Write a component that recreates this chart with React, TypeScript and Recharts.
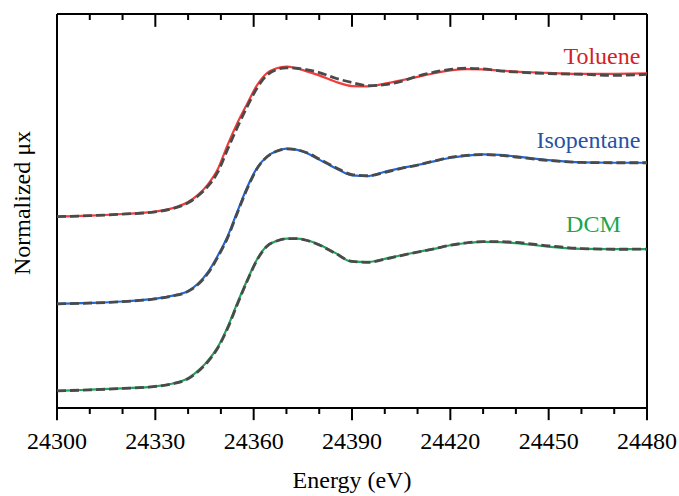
import { Line, LineChart, ReferenceDot, ReferenceLine, XAxis, YAxis } from "recharts";

// Normalized XANES spectra, measured (solid) and modelled (dashed).
const energy = [
  24300, 24310, 24320, 24330, 24335, 24340, 24343, 24346, 24349, 24352, 24355, 24358,
  24361, 24364, 24367, 24370, 24373, 24376, 24380, 24385, 24390, 24395, 24400, 24405,
  24410, 24415, 24420, 24425, 24430, 24435, 24440, 24450, 24460, 24470, 24480,
];

const toluene = [
  0.0, 0.008, 0.019, 0.036, 0.058, 0.103, 0.153, 0.225, 0.33, 0.5, 0.655, 0.79,
  0.92, 1.005, 1.04, 1.051, 1.04, 1.02, 0.99, 0.945, 0.915, 0.913, 0.932, 0.955,
  0.98, 1.005, 1.025, 1.034, 1.032, 1.024, 1.016, 1.008, 1.0, 1.001, 1.004,
];
const tolueneModel = [
  0.0, 0.007, 0.018, 0.034, 0.055, 0.098, 0.145, 0.212, 0.31, 0.47, 0.625, 0.77,
  0.9, 0.99, 1.03, 1.043, 1.04, 1.03, 1.01, 0.97, 0.94, 0.918, 0.925, 0.948,
  0.985, 1.012, 1.032, 1.04, 1.035, 1.022, 1.014, 1.003, 0.998, 0.99, 0.997,
];

const isopentane = [
  0.0, 0.006, 0.016, 0.036, 0.055, 0.09, 0.14, 0.22, 0.335, 0.47, 0.645, 0.815,
  0.95, 1.03, 1.07, 1.087, 1.08, 1.058, 1.01, 0.95, 0.9, 0.895, 0.925, 0.95,
  0.972, 0.998, 1.023, 1.037, 1.046, 1.043, 1.032, 1.006, 0.99, 0.988, 0.988,
];
const isopentaneModel = [
  0.0, 0.005, 0.015, 0.034, 0.053, 0.087, 0.135, 0.212, 0.325, 0.46, 0.635, 0.805,
  0.945, 1.028, 1.068, 1.085, 1.08, 1.06, 1.015, 0.955, 0.905, 0.897, 0.92, 0.948,
  0.972, 1.0, 1.025, 1.04, 1.045, 1.04, 1.028, 1.004, 0.99, 0.988, 0.988,
];

const dcm = [
  0.0, 0.008, 0.018, 0.032, 0.05, 0.088, 0.14, 0.21, 0.305, 0.445, 0.615, 0.775,
  0.92, 1.015, 1.05, 1.066, 1.067, 1.057, 1.025, 0.965, 0.905, 0.903, 0.925, 0.95,
  0.973, 0.995, 1.02, 1.036, 1.044, 1.042, 1.035, 1.01, 0.995, 0.993, 0.993,
];
const dcmModel = [
  0.0, 0.007, 0.017, 0.031, 0.048, 0.085, 0.135, 0.204, 0.298, 0.435, 0.605, 0.768,
  0.915, 1.012, 1.05, 1.066, 1.066, 1.055, 1.022, 0.962, 0.907, 0.9, 0.922, 0.948,
  0.972, 0.995, 1.02, 1.037, 1.046, 1.046, 1.04, 1.016, 0.997, 0.992, 0.993,
];

// vertical stacking offsets
const offsetToluene = 1.22;
const offsetIsopentane = 0.61;
const offsetDcm = 0;

const xTicks = [
  24300, 24310, 24320, 24330, 24340, 24350, 24360, 24370, 24380, 24390,
  24400, 24410, 24420, 24430, 24440, 24450, 24460, 24470, 24480,
];
const xLabels = [24300, 24330, 24360, 24390, 24420, 24450, 24480];

const X_MIN = 24300;
const X_MAX = 24480;
const Y_MIN = -0.12;
const Y_MAX = 2.64;

const data = energy.map((e, i) => ({
  e,
  tol: toluene[i] + offsetToluene,
  tolM: tolueneModel[i] + offsetToluene,
  iso: isopentane[i] + offsetIsopentane,
  isoM: isopentaneModel[i] + offsetIsopentane,
  dcm: dcm[i] + offsetDcm,
  dcmM: dcmModel[i] + offsetDcm,
}));

const FONT = "'Liberation Serif', 'Times New Roman', serif";
const isMajor = (v: number) => (v - X_MIN) % 30 === 0;

function BottomLabel({ x, y, payload }: any) {
  return (
    <text x={x} y={y + 41} textAnchor="middle" fontFamily={FONT} fontSize={24} fill="#000">
      {payload.value}
    </text>
  );
}

function tag(text: string, color: string) {
  return ({ cx, cy }: any) => (
    <text x={cx} y={cy} textAnchor="end" fontFamily={FONT} fontSize={24} fill={color}>
      {text}
    </text>
  );
}

const dashed = { stroke: "#4a4a4a", strokeWidth: 2.8, strokeDasharray: "9 4" };
const frame = { stroke: "#000", strokeWidth: 2, ifOverflow: "visible" as const };

export default function App() {
  return (
    <div style={{ position: "absolute", left: 0, top: 0, width: 679, height: 496, background: "#fff" }}>
      <LineChart width={679} height={496} data={data} margin={{ top: 14, right: 32, left: 57, bottom: 38 }}>
        <XAxis
          dataKey="e"
          type="number"
          domain={[X_MIN, X_MAX]}
          ticks={xLabels}
          interval={0}
          height={50}
          tickSize={0}
          tickMargin={0}
          axisLine={false}
          tickLine={false}
          tick={<BottomLabel />}
        />
        <YAxis hide type="number" domain={[Y_MIN, Y_MAX]} allowDataOverflow />

        {/* box frame */}
        <ReferenceLine x={X_MIN} {...frame} />
        <ReferenceLine x={X_MAX} {...frame} />
        <ReferenceLine y={Y_MIN} {...frame} />
        <ReferenceLine y={Y_MAX} {...frame} />

        {/* ticks: inward along the top edge, outward below the bottom edge */}
        {xTicks.map((t) => (
          <ReferenceLine
            key={`t${t}`}
            segment={[
              { x: t, y: Y_MAX },
              { x: t, y: Y_MAX - (isMajor(t) ? 0.09 : 0.042) },
            ]}
            {...frame}
          />
        ))}
        {xTicks.map((t) => (
          <ReferenceLine
            key={`b${t}`}
            segment={[
              { x: t, y: Y_MIN },
              { x: t, y: Y_MIN - (isMajor(t) ? 0.085 : 0.042) },
            ]}
            {...frame}
          />
        ))}

        <Line type="monotone" dataKey="tol" stroke="#f23b3b" strokeWidth={2.2} dot={false} isAnimationActive={false} />
        <Line type="monotone" dataKey="tolM" {...dashed} dot={false} isAnimationActive={false} />
        <Line type="monotone" dataKey="iso" stroke="#1f68d8" strokeWidth={2.2} dot={false} isAnimationActive={false} />
        <Line type="monotone" dataKey="isoM" {...dashed} dot={false} isAnimationActive={false} />
        <Line type="monotone" dataKey="dcm" stroke="#22a35a" strokeWidth={2.2} dot={false} isAnimationActive={false} />
        <Line type="monotone" dataKey="dcmM" {...dashed} dot={false} isAnimationActive={false} />

        <ReferenceDot x={24478} y={2.29} r={0} shape={tag("Toluene", "#d41f26")} />
        <ReferenceDot x={24478} y={1.702} r={0} shape={tag("Isopentane", "#2752a6")} />
        <ReferenceDot x={24472} y={1.113} r={0} shape={tag("DCM", "#1aa650")} />
      </LineChart>
      <div
        style={{
          position: "absolute",
          left: 0,
          top: 466,
          width: 704,
          textAlign: "center",
          fontFamily: FONT,
          fontSize: 24,
          lineHeight: "28px",
        }}
      >
        Energy (eV)
      </div>
      <div
        style={{
          position: "absolute",
          left: 22,
          top: 203,
          transform: "translate(-50%, -50%) rotate(-90deg)",
          whiteSpace: "nowrap",
          fontFamily: FONT,
          fontSize: 24,
          lineHeight: "28px",
        }}
      >
        Normalized μx
      </div>
    </div>
  );
}
